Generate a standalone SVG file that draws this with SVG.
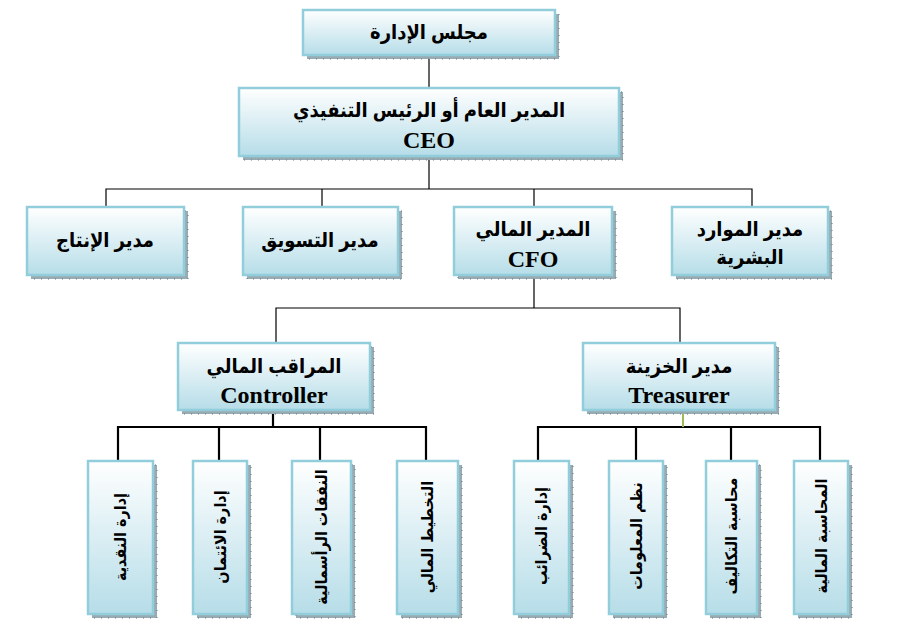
<svg xmlns="http://www.w3.org/2000/svg" width="922" height="625" viewBox="0 0 922 625">
<defs>
<linearGradient id="g" x1="0" y1="0" x2="0" y2="1">
<stop offset="0" stop-color="#FFFFFF"/>
<stop offset="1" stop-color="#B6DDE8"/>
</linearGradient>
<style>
.sh{fill:#98AAB2;stroke:#5F7B86;stroke-width:1;stroke-dasharray:1 6}
.bx{fill:url(#g);stroke:#92CDDC;stroke-width:2.5}
.t{font-family:"Liberation Serif","DejaVu Sans Condensed","DejaVu Sans",serif;font-weight:bold;fill:#000;text-anchor:middle}
.ar{font-size:20px}
.en{font-size:24px}
.v{font-family:"DejaVu Sans Condensed","DejaVu Sans",sans-serif;font-weight:bold;font-size:16px;text-anchor:middle;dominant-baseline:central}
.c1{stroke:#000;stroke-width:1.2;fill:none}
.c2{stroke:#000;stroke-width:2.2;fill:none}
</style>
</defs>
<rect width="922" height="625" fill="#fff"/>
<g id="connectors">
<path class="c1" d="M429 55V88M429 156V189M106 207V189H752V207M322 189V207M534 189V207M534 275V308M276 343V308H680V343"/>
<path class="c2" d="M273 410V427M118 461V427H426V461M219 427V461M320 427V461M538 461V427H820V461M636 427V461M731 427V461"/>
<path d="M683 410V427" stroke="#9BBB59" stroke-width="2" fill="none"/>
</g>
<g id="board"><rect class="sh" x="307" y="14" width="252" height="45"/><rect class="bx" x="303" y="10" width="252" height="45"/><text class="t ar" x="429" y="39">مجلس الإدارة</text></g>
<g id="ceo"><rect class="sh" x="243" y="92" width="380" height="68"/><rect class="bx" x="239" y="88" width="380" height="68"/><text class="t ar" x="429" y="117">المدير العام أو الرئيس التنفيذي</text><text class="t en" x="429" y="148">CEO</text></g>
<g id="production"><rect class="sh" x="31" y="211" width="157" height="68"/><rect class="bx" x="27" y="207" width="157" height="68"/><text class="t ar" x="105" y="247">مدير الإنتاج</text></g>
<g id="marketing"><rect class="sh" x="247" y="211" width="155" height="68"/><rect class="bx" x="243" y="207" width="155" height="68"/><text class="t ar" x="320" y="247">مدير التسويق</text></g>
<g id="cfo"><rect class="sh" x="458" y="211" width="158" height="68"/><rect class="bx" x="454" y="207" width="158" height="68"/><text class="t ar" x="533" y="236">المدير المالي</text><text class="t en" x="533" y="267">CFO</text></g>
<g id="hr"><rect class="sh" x="676" y="211" width="156" height="68"/><rect class="bx" x="672" y="207" width="156" height="68"/><text class="t ar" x="750" y="236">مدير الموارد</text><text class="t ar" x="750" y="264">البشرية</text></g>
<g id="controller"><rect class="sh" x="182" y="347" width="192" height="67"/><rect class="bx" x="178" y="343" width="192" height="67"/><text class="t ar" x="274" y="373">المراقب المالي</text><text class="t en" x="274" y="403">Controller</text></g>
<g id="treasurer"><rect class="sh" x="587" y="347" width="192" height="67"/><rect class="bx" x="583" y="343" width="192" height="67"/><text class="t ar" x="679" y="373">مدير الخزينة</text><text class="t en" x="679" y="403">Treasurer</text></g>
<g id="l1"><rect class="sh" x="92" y="465" width="65" height="153"/><rect class="bx" x="88" y="461" width="65" height="153"/><text class="v" transform="translate(120,537) rotate(-90)">إدارة النقدية</text></g>
<g id="l2"><rect class="sh" x="197" y="465" width="54" height="153"/><rect class="bx" x="193" y="461" width="54" height="153"/><text class="v" transform="translate(220,537) rotate(-90)">إدارة الائتمان</text></g>
<g id="l3"><rect class="sh" x="296" y="465" width="59" height="153"/><rect class="bx" x="292" y="461" width="59" height="153"/><text class="v" transform="translate(321,537) rotate(-90)">النفقات الرأسمالية</text></g>
<g id="l4"><rect class="sh" x="401" y="465" width="61" height="153"/><rect class="bx" x="397" y="461" width="61" height="153"/><text class="v" transform="translate(427,537) rotate(-90)">التخطيط المالي</text></g>
<g id="r1"><rect class="sh" x="518" y="465" width="55" height="153"/><rect class="bx" x="514" y="461" width="55" height="153"/><text class="v" transform="translate(541,536) rotate(-90)">إدارة الضرائب</text></g>
<g id="r2"><rect class="sh" x="613" y="465" width="54" height="153"/><rect class="bx" x="609" y="461" width="54" height="153"/><text class="v" transform="translate(636,536) rotate(-90)">نظم المعلومات</text></g>
<g id="r3"><rect class="sh" x="710" y="465" width="51" height="153"/><rect class="bx" x="706" y="461" width="51" height="153"/><text class="v" transform="translate(731,536) rotate(-90)">محاسبة التكاليف</text></g>
<g id="r4"><rect class="sh" x="798" y="465" width="54" height="153"/><rect class="bx" x="794" y="461" width="54" height="153"/><text class="v" transform="translate(821,536) rotate(-90)">المحاسبة المالية</text></g>
</svg>
